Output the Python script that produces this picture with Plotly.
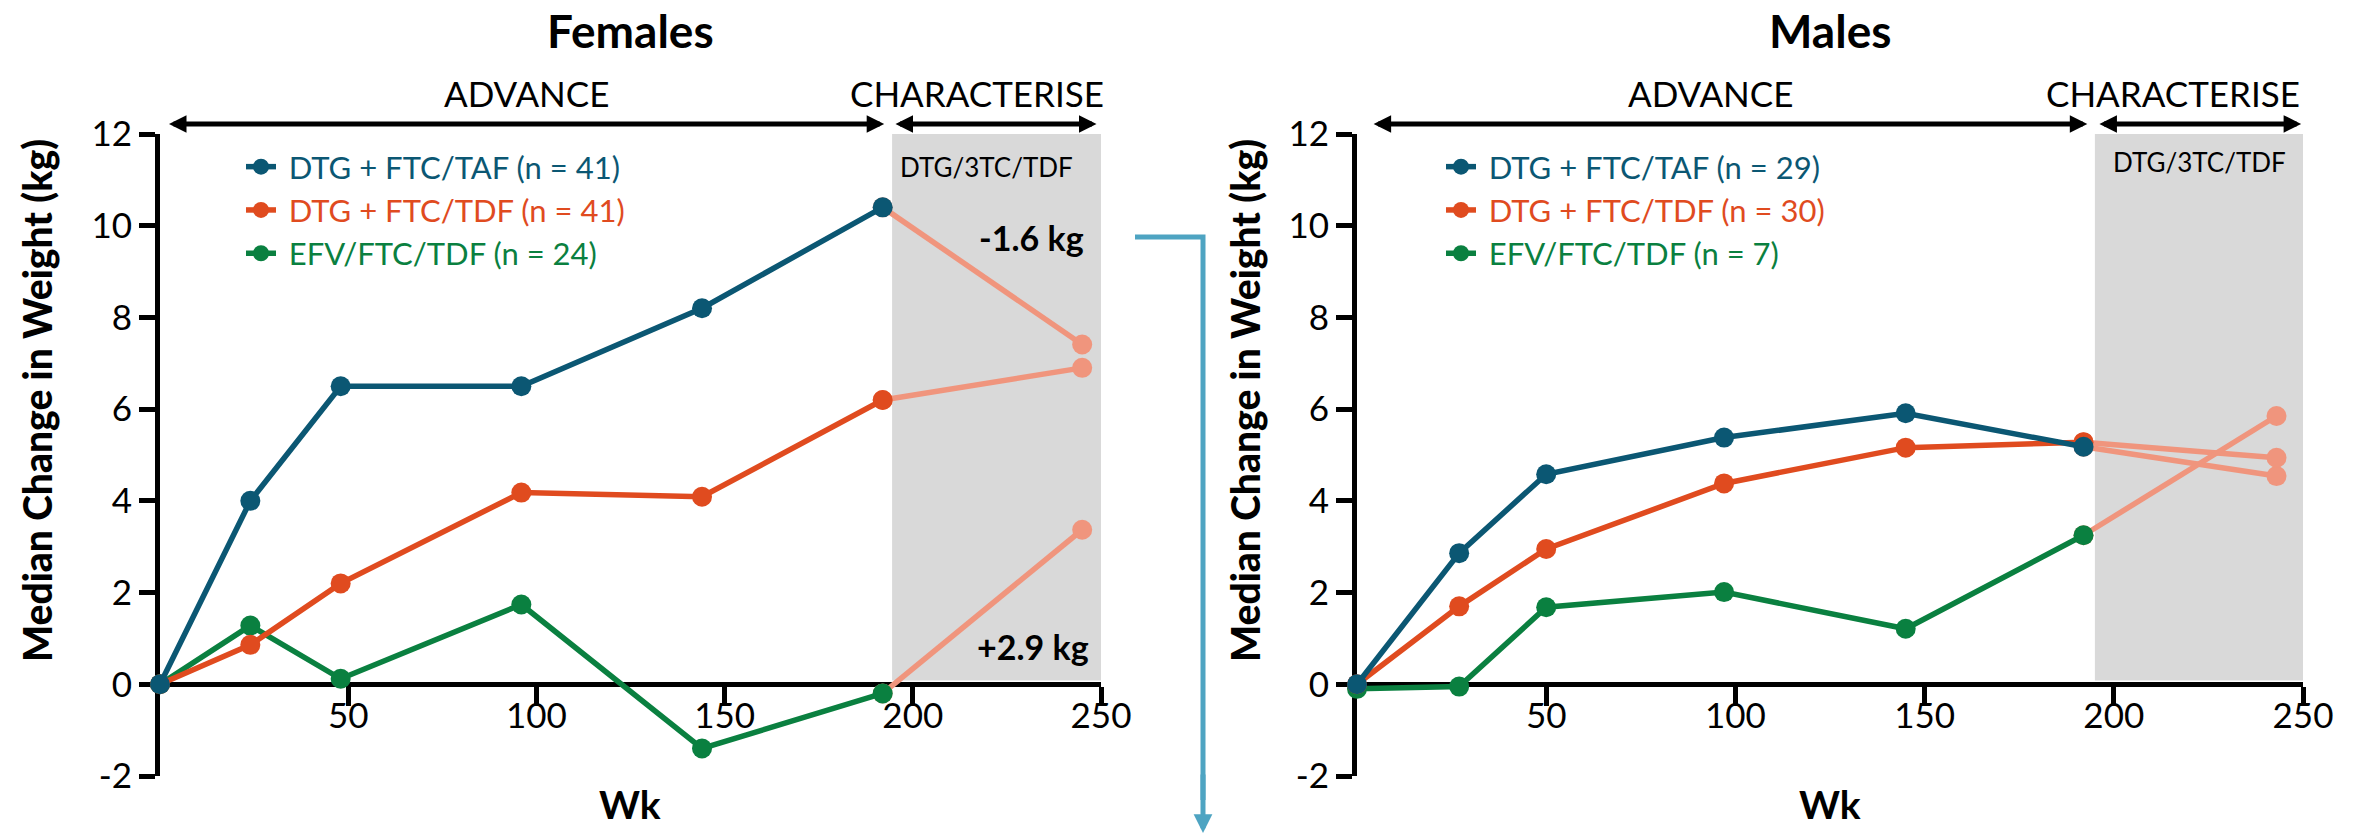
import plotly.graph_objects as go

W, H = 2356, 834

# ---------------- data ----------------
weeks_f = [0, 24, 48, 96, 144, 192]
f_taf = [0, 4.0, 6.5, 6.5, 8.2, 10.4]
f_tdf = [0, 0.86, 2.2, 4.18, 4.09, 6.2]
f_efv = [0, 1.28, 0.12, 1.74, -1.40, -0.2]
f_ext_week = 245
f_ext_taf = 7.41
f_ext_tdf = 6.9
f_ext_efv = 3.37

weeks_m = [0, 27, 50, 97, 145, 192]
m_taf = [0, 2.86, 4.58, 5.38, 5.91, 5.18]
m_tdf = [0, 1.70, 2.95, 4.38, 5.16, 5.28]
m_efv = [-0.1, -0.05, 1.68, 2.01, 1.21, 3.25]
m_ext_week = 243
m_ext_taf = 4.54
m_ext_tdf = 4.94
m_ext_efv = 5.85

labels_f = ["DTG + FTC/TAF (n = 41)", "DTG + FTC/TDF (n = 41)", "EFV/FTC/TDF (n = 24)"]
labels_m = ["DTG + FTC/TAF (n = 29)", "DTG + FTC/TDF (n = 30)", "EFV/FTC/TDF (n = 7)"]

x_tickvals = [50, 100, 150, 200, 250]
x_ticktext = ["50", "100", "150", "200", "250"]
y_tickvals = [-2, 0, 2, 4, 6, 8, 10, 12]
y_ticktext = ["-2", "0", "2", "4", "6", "8", "10", "12"]

panel_titles = ["Females", "Males"]
phase_labels = ["ADVANCE", "CHARACTERISE"]
switch_label = "DTG/3TC/TDF"
delta_labels = ["-1.6 kg", "+2.9 kg"]
x_title = "Wk"
y_title = "Median Change in Weight (kg)"

# ---------------- style ----------------
BLUE = "#0b5773"
ORANGE = "#e04b1f"
GREEN = "#0a8040"
PINK = "#f0957d"
GRAY = "#d9d9d9"
CONN = "#4ea4c2"
FONT = "Lato"

LW = 5.5
MS = 20

def px_x(p):
    return p / W

def px_y(p):
    return 1 - p / H

y_dom = [px_y(776), px_y(134)]
y0_pos = y_dom[0] + (0 - (-2)) / 14 * (y_dom[1] - y_dom[0])
x_dom_f = [px_x(160), px_x(1101)]
x_dom_m = [px_x(1357), px_x(2303)]

def ydom(v):
    """data y value -> 'y domain' fraction (range -2..12)"""
    return (v + 2) / 14

fig = go.Figure()

def add_panel(xa, ya, legend, weeks, taf, tdf, efv, ext_week, ext_taf, ext_tdf, ext_efv, labels):
    for series, end in ((taf, ext_taf), (tdf, ext_tdf), (efv, ext_efv)):
        fig.add_trace(go.Scatter(
            x=[weeks[-1], ext_week], y=[series[-1], end], mode="lines+markers",
            line=dict(color=PINK, width=LW), marker=dict(color=PINK, size=MS),
            showlegend=False, xaxis=xa, yaxis=ya, cliponaxis=False, hoverinfo="skip"))
    for series, col, lab in ((efv, GREEN, labels[2]), (tdf, ORANGE, labels[1]), (taf, BLUE, labels[0])):
        fig.add_trace(go.Scatter(
            x=weeks, y=series, mode="lines+markers",
            line=dict(color=col, width=LW), marker=dict(color=col, size=MS),
            name=f"<span style='color:{col}'>\u2009\u2009{lab}</span>",
            legend=legend, xaxis=xa, yaxis=ya, cliponaxis=False))

add_panel("x", "y", "legend", weeks_f, f_taf, f_tdf, f_efv, f_ext_week, f_ext_taf, f_ext_tdf, f_ext_efv, labels_f)
add_panel("x2", "y2", "legend2", weeks_m, m_taf, m_tdf, m_efv, m_ext_week, m_ext_taf, m_ext_tdf, m_ext_efv, labels_m)

axis_common_x = dict(
    range=[0, 250], showline=True, linewidth=5, linecolor="black",
    ticks="outside", ticklen=19, tickwidth=5, tickcolor="black",
    tickmode="array", tickvals=x_tickvals, ticktext=x_ticktext,
    tickfont=dict(family=FONT, size=35, color="black"), ticklabelstandoff=-20,
    showgrid=False, zeroline=False, anchor="free", position=y0_pos,
    layer="below traces", automargin=False, fixedrange=True)
axis_common_y = dict(
    range=[-2, 12], domain=y_dom, showline=True, linewidth=5, linecolor="black",
    ticks="outside", ticklen=16, tickwidth=5, tickcolor="black",
    tickmode="array", tickvals=y_tickvals, ticktext=y_ticktext,
    tickfont=dict(family=FONT, size=35, color="black"),
    showgrid=False, zeroline=False, layer="below traces", automargin=False, fixedrange=True)

legend_common = dict(xanchor="left", yanchor="top", font=dict(family=FONT, size=31),
                     bgcolor="rgba(0,0,0,0)", traceorder="reversed",
                     itemclick=False, itemdoubleclick=False)

fig.update_layout(
    width=W, height=H, template="none",
    margin=dict(l=0, r=0, t=0, b=0),
    paper_bgcolor="white", plot_bgcolor="rgba(0,0,0,0)",
    font=dict(family=FONT, color="black"),
    xaxis=dict(domain=x_dom_f, **axis_common_x),
    yaxis=dict(anchor="x", **axis_common_y),
    xaxis2=dict(domain=x_dom_m, **axis_common_x),
    yaxis2=dict(anchor="x2", **axis_common_y),
    legend=dict(x=px_x(241), y=px_y(140), **legend_common),
    legend2=dict(x=px_x(1441), y=px_y(140), **legend_common),
    showlegend=True,
)

shapes = []
annotations = []

panels = [
    dict(xa="x", ya="y", gray=(194.5, 250), adv=(2, 192.4), char=(195, 248.8),
         adv_lab=97.5, char_lab=217, sw=(219.5, 11.28), ytitle_x=37, wk_x=630),
    dict(xa="x2", ya="y2", gray=(195, 250), adv=(4, 193), char=(195.8, 249.5),
         adv_lab=93.3, char_lab=215.6, sw=(222.7, 11.39), ytitle_x=1245, wk_x=1830),
]

for i, p in enumerate(panels):
    xa, ya = p["xa"], p["ya"]
    shapes.append(dict(type="rect", xref=xa, yref=ya, x0=p["gray"][0], x1=p["gray"][1],
                       y0=0.08, y1=12, fillcolor=GRAY, line=dict(width=0), layer="below"))
    annotations.append(dict(text=f"<b>{panel_titles[i]}</b>", xref=f"{xa} domain", x=0.5,
                            yref="paper", y=px_y(30), xanchor="center", yanchor="middle",
                            showarrow=False, font=dict(family=FONT, size=46, color="black")))
    for (a, b) in (p["adv"], p["char"]):
        annotations.append(dict(text="", xref=xa, yref=f"{ya} domain", x=b, y=ydom(12.22),
                                axref=xa, ayref=f"{ya} domain", ax=a, ay=ydom(12.22),
                                showarrow=True, arrowside="end+start",
                                arrowhead=2, arrowsize=0.7, arrowwidth=5, arrowcolor="black",
                                standoff=0, startstandoff=0))
    annotations.append(dict(text=phase_labels[0], xref=xa, x=p["adv_lab"], yref="paper",
                            y=px_y(93), xanchor="center", yanchor="middle", showarrow=False,
                            font=dict(family=FONT, size=35)))
    annotations.append(dict(text=phase_labels[1], xref=xa, x=p["char_lab"], yref="paper",
                            y=px_y(93), xanchor="center", yanchor="middle", showarrow=False,
                            font=dict(family=FONT, size=35)))
    annotations.append(dict(text=switch_label, xref=xa, yref=ya, x=p["sw"][0], y=p["sw"][1],
                            xanchor="center", yanchor="middle", showarrow=False,
                            font=dict(family=FONT, size=26)))
    annotations.append(dict(text=y_title, xref="paper", yref="paper",
                            x=px_x(p["ytitle_x"]), y=px_y(401), xanchor="center", yanchor="middle",
                            textangle=-90, showarrow=False,
                            font=dict(family=FONT, size=39, weight=900)))
    annotations.append(dict(text=f"<b>{x_title}</b>", xref="paper", yref="paper",
                            x=px_x(p["wk_x"]), y=px_y(804), xanchor="center", yanchor="middle",
                            showarrow=False, font=dict(family=FONT, size=39)))

annotations.append(dict(text=f"<b>{delta_labels[0]}</b>", xref="x", yref="y", x=231.6, y=9.75,
                        xanchor="center", yanchor="middle",
                        showarrow=False, font=dict(family=FONT, size=34)))
annotations.append(dict(text=f"<b>{delta_labels[1]}</b>", xref="x", yref="y", x=232, y=0.82,
                        xanchor="center", yanchor="middle",
                        showarrow=False, font=dict(family=FONT, size=34)))

shapes.append(dict(type="path", xref="paper", yref="paper",
                   path=f"M {px_x(1135)},{px_y(237)} L {px_x(1203)},{px_y(237)} L {px_x(1203)},{px_y(800)}",
                   line=dict(color=CONN, width=5)))
annotations.append(dict(text="", xref="paper", yref="paper", x=px_x(1203), y=px_y(833),
                        ax=0, ay=-60, axref="pixel", ayref="pixel", showarrow=True,
                        arrowhead=2, arrowsize=0.75, arrowwidth=5, arrowcolor=CONN, standoff=0))

fig.update_layout(shapes=shapes, annotations=annotations)

fig.write_html("out.html")
